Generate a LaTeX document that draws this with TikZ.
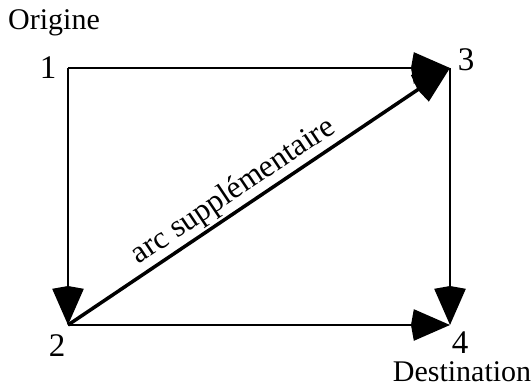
\documentclass[tikz,border=0pt]{standalone}
\usepackage{fontspec}
\setmainfont{Liberation Serif}
\usetikzlibrary{arrows.meta}
\begin{document}
\begin{tikzpicture}[x=1pt,y=-1pt,
  edge/.style={line width=2pt,-{Stealth[length=36pt,width=31pt,inset=-3pt]}},
  diag/.style={line width=3.5pt,-{Stealth[length=36pt,width=31pt,inset=-3pt]}},
  lbl/.style={font=\fontsize{30}{33}\selectfont,inner sep=0pt},
  num/.style={font=\fontsize{33}{36}\selectfont,inner sep=0pt},
  diaglbl/.style={font=\fontsize{31.5}{34}\selectfont,inner sep=2pt}]
\useasboundingbox (0,0) rectangle (532,387);
\coordinate (n1) at (68,68);
\coordinate (n3) at (450,68);
\coordinate (n2) at (68,325);
\coordinate (n4) at (450,325);
\node[lbl] (orig) at (54,23) {Origine};
\node[num] (t1) at (48,68) {1};
\node[num] (t3) at (466,60) {3};
\node[num] (t2) at (57,346) {2};
\node[num] (t4) at (460,343) {4};
\node[lbl] (dest) at (462,372) {Destination};
\draw[edge] (n1) -- (n3);
\draw[edge] (n1) -- (n2);
\draw[edge] (n2) -- (n4);
\draw[edge] (n3) -- (n4);
\draw[diag] (n2) -- node[diaglbl,pos=0.46,sloped,above] (lab) {arc supplémentaire} (n3);
\end{tikzpicture}
\end{document}
